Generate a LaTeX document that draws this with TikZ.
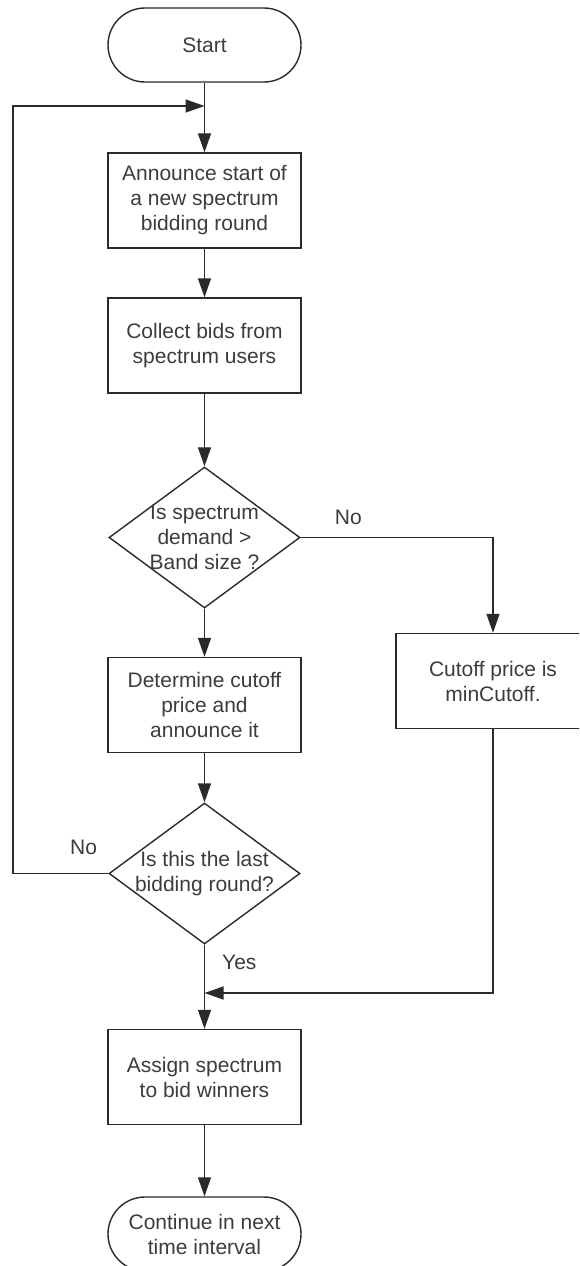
\documentclass[tikz,border=0pt]{standalone}
\usepackage{fontspec}
\setmainfont{Liberation Sans}
\usetikzlibrary{shapes.geometric, arrows.meta}
\definecolor{linegray}{HTML}{2A2A2A}
\definecolor{textgray}{HTML}{3C3C3C}
\tikzstyle{startstop} = [rectangle, rounded corners=37pt,
minimum width=193pt,
minimum height=74pt,
align=center,
draw=linegray,
line width=1.4pt,
text=textgray]
\tikzstyle{process} = [rectangle,
minimum width=193pt,
minimum height=95pt,
align=center,
draw=linegray,
line width=1.4pt,
text=textgray]
\tikzstyle{decision} = [diamond,
aspect=1.36,
inner sep=-8pt,
minimum width=191pt,
minimum height=141pt,
align=center,
draw=linegray,
line width=1.4pt,
text=textgray]
\tikzstyle{arrow} = [line width=1.4pt, draw=linegray, -{Triangle[length=19pt,width=13pt]}]
\tikzstyle{branch} = [text=textgray, inner sep=7pt]

\begin{document}
\begin{tikzpicture}[x=1pt, y=1pt, node distance=150pt, font=\fontsize{21}{25}\selectfont]
			\useasboundingbox (0,0) rectangle (579,-1266);
			\clip (0,0) rectangle (579,-1266);
			\node (start) [startstop] at (204.5,-45) {Start};
			\node (announce) [process, below of=start, node distance=155.5pt] {Announce start of\\a new spectrum\\bidding round};
			\node (collect) [process, below of=announce, node distance=145pt] {Collect bids from\\spectrum users};
			\node (demand) [decision, below of=collect, node distance=192pt] {Is spectrum\\demand >\\Band size ?};
			\node (cutoff) [process, below of=demand, node distance=167.5pt] {Determine cutoff\\price and\\announce it};
			\node (lastround) [decision, below of=cutoff, node distance=168.5pt] {Is this the last\\bidding round?};
			\node (assign) [process, below of=lastround, node distance=203.5pt] {Assign spectrum\\to bid winners};
			\node (stop) [startstop, below of=assign, node distance=157pt] {Continue in next\\time interval};
			\node (mincut) [process, minimum width=194pt] at (493,-681) {Cutoff price is\\minCutoff.};

			\coordinate (loopin) at (204.5,-106);
			\coordinate (loopleft) at (13,0);
			\coordinate (merge) at (204.5,-993);

			\draw[arrow] (start) -- (announce);
			\draw[arrow] (announce) -- (collect);
			\draw[arrow] (collect) -- (demand);
			\draw[arrow] (demand) -- (cutoff);
			\draw[arrow] (cutoff) -- (lastround);
			\draw[arrow] (lastround) -- node[branch, pos=0.21, right=10pt] {Yes} (assign);
			\draw[arrow] (assign) -- (stop);
			\draw[arrow] (demand.east) -| node[branch, pos=0.124, above=5pt] {No} (mincut.north);
			\draw[arrow] (mincut.south) |- (merge);
			\draw[arrow] (lastround.west) -- node[branch, pos=0.26, above=11pt] {No} (lastround.west -| loopleft) |- (loopin);
		\end{tikzpicture}
\end{document}
